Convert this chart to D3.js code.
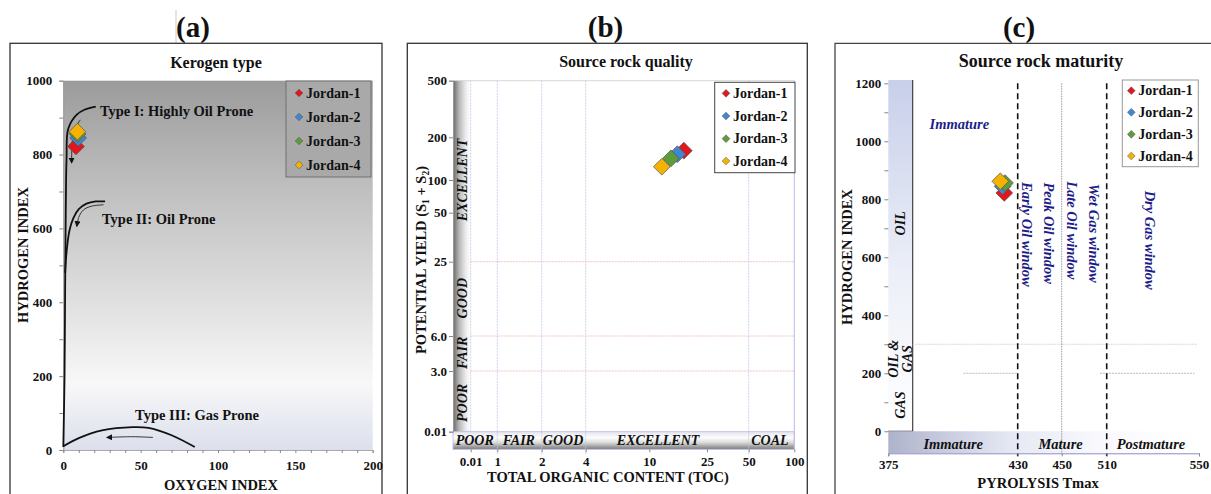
<!DOCTYPE html>
<html>
  <head>
    <meta charset="utf-8">
    <title>Kerogen type, source rock quality and maturity</title>
    <script src="https://d3js.org/d3.v7.min.js"></script>
    <style>
      body { margin: 0; background: #fff; }
      text { font-family: "Liberation Serif", "Times New Roman", serif; font-weight: bold; fill: #111; }
    </style>
  </head>
  <body>
    <svg id="chart" width="1211" height="494"></svg>
    <script>
      // wells and their colours
      let wells = ["Jordan-1", "Jordan-2", "Jordan-3", "Jordan-4"];
      let wellColors = ["#e3161b", "#3f87d2", "#5e9b3a", "#f6b200"];

      // (a) kerogen type: oxygen index vs hydrogen index
      let oxygenIndex = [8.2, 9.6, 9.3, 9.1];
      let hydrogenIndex = [822, 845, 856, 862];
      let oxygenTicks = [0, 50, 100, 150, 200];
      let kerogenHiTicks = [0, 200, 400, 600, 800, 1000];

      // kerogen evolution paths, [OI, HI]
      let typeI = [[0, 8], [0.8, 200], [1.2, 450], [1.6, 650], [2.1, 790], [3.2, 870], [8.7, 908], [14, 922], [21, 930]];
      let typeIArrow = [[11, 894], [7.5, 870], [5.8, 835], [5.4, 777]];
      let typeII = [[1.2, 480], [2.2, 540], [4, 595], [6.5, 628], [10, 652], [15, 667], [21, 673], [27, 673]];
      let typeIIArrow = [[26, 664], [18, 660], [13, 650], [10, 630], [8.7, 605]];
      let typeIII = [[0, 10], [10, 32], [25, 53], [45, 62], [55, 60], [70, 40], [85, 8]];
      let typeIIIArrow = [[58, 34], [45, 36], [28, 34]];
      let typeLabels = ["Type I: Highly Oil Prone", "Type II: Oil Prone", "Type III: Gas Prone"];
      let typeLabelAt = [[23.7, 905], [25, 611], [46.4, 81]];

      // (b) source rock quality: TOC vs potential yield (S1 + S2)
      let toc = [17.3, 15.6, 14.1, 12.2];
      let potentialYield = [161, 152, 142, 124];
      let tocTicks = [0.01, 1, 2, 4, 10, 25, 50, 100];
      let tocTickLabels = ["0.01", "1", "2", "4", "10", "25", "50", "100"];
      let yieldTicks = [0.01, 3, 6, 25, 50, 100, 200, 500];
      let yieldTickLabels = ["0.01", "3.0", "6.0", "25", "50", "100", "200", "500"];
      let tocClasses = ["POOR", "FAIR", "GOOD", "EXCELLENT", "COAL"];
      let tocClassLabelAt = [0.02, 1.4, 2.8, 11.5, 69];
      let tocClassLimits = [1, 2, 4, 50];
      let yieldClasses = ["POOR", "FAIR", "GOOD", "EXCELLENT"];
      let yieldClassLabelAt = [0.15, 4.3, 12.4, 100];
      let yieldClassLimits = [3, 6, 25];

      // (c) source rock maturity: Tmax vs hydrogen index
      let tmax = [424.3, 423.6, 424.6, 422.6];
      let tmaxTicks = [375, 430, 450, 510, 550];
      let maturityHiTicks = [0, 200, 400, 600, 800, 1000, 1200];
      let windowNames = ["Early Oil window", "Peak Oil window", "Late Oil window", "Wet Gas window", "Dry Gas window"];
      let windowLabelAt = [[434.4, 679], [444.4, 683], [463.3, 693], [493.1, 683], [528.8, 659]];
      let maturityClasses = ["Immature", "Mature", "Postmature"];
      let maturityClassLabelAt = [402.6, 449.5, 529.2];
      let hiClasses = [["OIL"], ["OIL &", "GAS"], ["GAS"]];
      let hiClassLabelAt = [717, 250, 90];

      let svg = d3.select("#chart");
      let defs = svg.append("defs");

      function gradient(id, x2, y2, stops) {
        let gr = defs.append("linearGradient").attr("id", id)
          .attr("x1", 0).attr("y1", 0).attr("x2", x2).attr("y2", y2);
        stops.forEach((s) => gr.append("stop").attr("offset", s[0]).attr("stop-color", s[1]));
      }
      gradient("gradA", 0, 1, [[0, "#9b9b9b"], [0.3, "#c0c0c0"], [0.6, "#e0e0e0"], [0.82, "#f8f8f9"], [1, "#dcdfec"]]);
      gradient("gradBLeft", 1, 0, [[0, "#666"], [0.35, "#b8b8b8"], [0.75, "#efefef"], [1, "#fff"]]);
      gradient("gradBBottom", 0, 1, [[0, "#e4e4ee"], [0.35, "#fdfdfd"], [0.6, "#dedede"], [1, "#7a7a7a"]]);
      gradient("gradCLeft", 0, 1, [[0, "#c8cfea"], [0.55, "#eceff8"], [1, "#fff"]]);
      gradient("gradCBottom", 1, 0, [[0, "#aeb3cc"], [0.4, "#e6e9f4"], [0.7, "#fafafe"], [1, "#fff"]]);

      defs.append("marker").attr("id", "arrow")
        .attr("viewBox", "0 0 10 10").attr("refX", 9).attr("refY", 5)
        .attr("markerUnits", "userSpaceOnUse").attr("markerWidth", 6).attr("markerHeight", 6)
        .attr("orient", "auto")
        .append("path").attr("d", "M0,0L10,5L0,10z").attr("fill", "#111");

      let bigDiamond = d3.symbol().type(d3.symbolSquare).size(140);
      let smallDiamond = d3.symbol().type(d3.symbolSquare).size(30);

      function drawWells(xs, ys, xScale, yScale) {
        svg.append("g").selectAll("path").data(wells).join("path")
          .attr("d", bigDiamond)
          .attr("transform", (d, i) => `translate(${xScale(xs[i])},${yScale(ys[i])}) rotate(45)`)
          .attr("fill", (d, i) => wellColors[i])
          .attr("stroke", "#555").attr("stroke-width", 0.7);
      }

      function drawLegend(x, y, w, h, rows, dx, fill, stroke) {
        let g = svg.append("g").attr("transform", `translate(${x},${y})`);
        g.append("rect").attr("width", w).attr("height", h)
          .attr("fill", fill).attr("stroke", stroke).attr("stroke-width", 1);
        wells.forEach((name, i) => {
          g.append("path").attr("d", smallDiamond)
            .attr("transform", `translate(${dx},${rows[i]}) rotate(45)`)
            .attr("fill", wellColors[i]).attr("stroke", "#555").attr("stroke-width", 0.5);
          g.append("text").attr("x", dx + 7).attr("y", rows[i]).attr("dy", "0.34em")
            .attr("font-size", 14).text(name);
        });
      }

      function styleAxis(g, domainColor) {
        g.attr("font-size", 13);
        g.select(".domain").attr("stroke", domainColor);
        g.selectAll(".tick line").attr("stroke", "#888");
      }

      function rotatedText(x, y, angle, size, txt, italic, color) {
        return svg.append("text")
          .attr("transform", `translate(${x},${y}) rotate(${angle})`)
          .attr("text-anchor", "middle").attr("dominant-baseline", "central")
          .attr("font-size", size)
          .attr("font-style", italic ? "italic" : null)
          .style("fill", color || "#111")
          .text(txt);
      }

      // panel frames and letters
      svg.append("line").attr("x1", 176).attr("x2", 176).attr("y1", 10).attr("y2", 43)
        .attr("stroke", "#bbb").attr("stroke-width", 0.8);
      svg.append("rect").attr("x", 10).attr("y", 43.3).attr("width", 372).attr("height", 470)
        .attr("fill", "none").attr("stroke", "#333").attr("stroke-width", 1.3);
      svg.append("rect").attr("x", 407.3).attr("y", 43.3).attr("width", 400).attr("height", 470)
        .attr("fill", "none").attr("stroke", "#333").attr("stroke-width", 1.3);
      svg.append("path").attr("d", "M835,510V43.3H1215")
        .attr("fill", "none").attr("stroke", "#444").attr("stroke-width", 1.3);

      [["(a)", 193], ["(b)", 605.5], ["(c)", 1019]].forEach((p) => {
        svg.append("text").attr("x", p[1]).attr("y", 37).attr("text-anchor", "middle")
          .attr("font-size", 29).text(p[0]);
      });

      // ================= (a) Kerogen type =================
      let xA = d3.scaleLinear().domain([0, 200]).range([63.3, 372.7]);
      let yA = d3.scaleLinear().domain([0, 1000]).range([450, 80.7]);

      svg.append("rect").attr("x", xA(0)).attr("y", yA(1000))
        .attr("width", xA(200) - xA(0)).attr("height", yA(0) - yA(1000))
        .attr("fill", "url(#gradA)");

      let gAy = svg.append("g").attr("transform", `translate(${xA(0)},0)`)
        .call(d3.axisLeft(yA).tickValues(d3.range(0, 1001, 100)).tickSize(4).tickPadding(7)
          .tickFormat((d) => (kerogenHiTicks.includes(d) ? d : "")));
      styleAxis(gAy, "#999");
      let gAx = svg.append("g").attr("transform", `translate(0,${yA(0)})`)
        .call(d3.axisBottom(xA).tickValues(d3.range(0, 201, 10)).tickSize(3).tickPadding(8)
          .tickFormat((d) => (oxygenTicks.includes(d) ? d : "")));
      styleAxis(gAx, "#aaa");

      let curve = d3.line().x((d) => xA(d[0])).y((d) => yA(d[1])).curve(d3.curveCatmullRom.alpha(0.5));
      [typeI, typeII, typeIII].forEach((path) => {
        svg.append("path").attr("d", curve(path)).attr("fill", "none")
          .attr("stroke", "#111").attr("stroke-width", 1.8);
      });
      [typeIArrow, typeIIArrow, typeIIIArrow].forEach((path) => {
        svg.append("path").attr("d", curve(path)).attr("fill", "none")
          .attr("stroke", "#222").attr("stroke-width", 0.9).attr("marker-end", "url(#arrow)");
      });
      typeLabels.forEach((t, i) => {
        svg.append("text").attr("x", xA(typeLabelAt[i][0])).attr("y", yA(typeLabelAt[i][1]))
          .attr("font-size", 14.5).text(t);
      });

      drawWells(oxygenIndex, hydrogenIndex, xA, yA);
      drawLegend(286, 81, 85, 96, [12, 36, 60, 84], 13, "#a9a9a9", "#707070");

      svg.append("text").attr("x", 216).attr("y", 68).attr("text-anchor", "middle")
        .attr("font-size", 16).text("Kerogen type");
      rotatedText(23, 255, -90, 14.5, "HYDROGEN INDEX");
      svg.append("text").attr("x", 221).attr("y", 490).attr("text-anchor", "middle")
        .attr("font-size", 14.5).text("OXYGEN INDEX");

      // ================= (b) Source rock quality =================
      let xB = d3.scaleLog().domain(tocTicks).range([470.7, 497.3, 541.7, 585.7, 649.3, 707, 748.7, 794.3]);
      let yB = d3.scaleLog().domain(yieldTicks).range([431.7, 371, 336, 261.7, 212.7, 180, 137.3, 80.7]);
      let bLeft = 453, bRight = xB(100), bTop = yB(500), bBottom = 449.3;

      // left (yield class) band and bottom (TOC class) band
      svg.append("rect").attr("x", bLeft).attr("y", bTop)
        .attr("width", xB(0.01) - bLeft).attr("height", yB(0.01) - bTop)
        .attr("fill", "url(#gradBLeft)");
      svg.append("rect").attr("x", bLeft).attr("y", yB(0.01))
        .attr("width", bRight - bLeft).attr("height", bBottom - yB(0.01))
        .attr("fill", "url(#gradBBottom)").attr("stroke", "#b9b9e0").attr("stroke-width", 0.8);

      // grid
      svg.append("g").selectAll("line").data(tocClassLimits.concat([0.01])).join("line")
        .attr("x1", (d) => xB(d)).attr("x2", (d) => xB(d))
        .attr("y1", bTop).attr("y2", (d) => (d === 0.01 ? yB(0.01) : bBottom + 5))
        .attr("stroke", "#c4c4e6").attr("stroke-width", 0.8).attr("stroke-dasharray", "2,1");
      svg.append("g").selectAll("line").data(yieldClassLimits).join("line")
        .attr("x1", xB(0.01)).attr("x2", bRight)
        .attr("y1", (d) => yB(d)).attr("y2", (d) => yB(d))
        .attr("stroke", "#f1b4b4").attr("stroke-width", 0.8).attr("stroke-dasharray", "2,1");
      svg.append("line").attr("x1", bRight).attr("x2", bRight).attr("y1", bTop).attr("y2", bBottom)
        .attr("stroke", "#b9b9e0");
      svg.append("line").attr("x1", bLeft).attr("x2", bRight).attr("y1", bTop).attr("y2", bTop)
        .attr("stroke", "#ccc").attr("stroke-width", 0.8);

      let gBy = svg.append("g").attr("transform", `translate(${bLeft},0)`)
        .call(d3.axisLeft(yB).tickValues(yieldTicks).tickSize(4).tickPadding(2)
          .tickFormat((d, i) => yieldTickLabels[i]));
      styleAxis(gBy, "#999");
      let gBx = svg.append("g").attr("transform", `translate(0,${bBottom})`)
        .call(d3.axisBottom(xB).tickValues(tocTicks).tickSize(3).tickPadding(4)
          .tickFormat((d, i) => tocTickLabels[i]));
      styleAxis(gBx, "none");

      tocClasses.forEach((c, i) => {
        svg.append("text").attr("x", xB(tocClassLabelAt[i])).attr("y", (yB(0.01) + bBottom) / 2)
          .attr("dy", "0.35em").attr("text-anchor", "middle")
          .attr("font-size", 14).attr("font-style", "italic").text(c);
      });
      yieldClasses.forEach((c, i) => {
        rotatedText((bLeft + xB(0.01)) / 2 + 1, yB(yieldClassLabelAt[i]), -90, 14, c, true);
      });

      drawWells(toc, potentialYield, xB, yB);
      drawLegend(714.7, 82.3, 80.3, 90.4, [11, 33.7, 56.4, 78.7], 11.3, "#fff", "#444");

      svg.append("text").attr("x", 626).attr("y", 67).attr("text-anchor", "middle")
        .attr("font-size", 16).text("Source rock quality");
      let yTitle = svg.append("text")
        .attr("transform", "translate(420.7,260) rotate(-90)")
        .attr("text-anchor", "middle").attr("dominant-baseline", "central").attr("font-size", 14.5);
      yTitle.append("tspan").text("POTENTIAL YIELD (S");
      yTitle.append("tspan").attr("font-size", 9.5).attr("baseline-shift", "sub").text("1");
      yTitle.append("tspan").text(" + S");
      yTitle.append("tspan").attr("font-size", 9.5).attr("baseline-shift", "sub").text("2");
      yTitle.append("tspan").text(")");
      svg.append("text").attr("x", 608).attr("y", 482).attr("text-anchor", "middle")
        .attr("font-size", 14.5).text("TOTAL ORGANIC CONTENT (TOC)");

      // ================= (c) Source rock maturity =================
      let xC = d3.scaleLinear().domain(tmaxTicks).range([888.3, 1017.7, 1061.7, 1106.7, 1199]);
      let yC = d3.scaleLinear().domain([-76, 1200]).range([453.3, 83.3]);
      let bandRight = 912.7;

      svg.append("rect").attr("x", xC(375)).attr("y", 80)
        .attr("width", bandRight - xC(375)).attr("height", yC(0) - 80)
        .attr("fill", "url(#gradCLeft)");
      svg.append("path").attr("d", `M${bandRight},80V${yC(0)}H${xC(375)}`)
        .attr("fill", "none").attr("stroke", "#333").attr("stroke-width", 1.1);
      svg.append("rect").attr("x", xC(375)).attr("y", yC(0))
        .attr("width", xC(550) - xC(375)).attr("height", yC(-76) - yC(0))
        .attr("fill", "url(#gradCBottom)");

      // HI class limits
      svg.append("line").attr("x1", bandRight).attr("x2", xC(549))
        .attr("y1", yC(300)).attr("y2", yC(300))
        .attr("stroke", "#ccc").attr("stroke-width", 0.8).attr("stroke-dasharray", "2,1");
      [[407, 430], [501, 548]].forEach((s) => {
        svg.append("line").attr("x1", xC(s[0])).attr("x2", xC(s[1]))
          .attr("y1", yC(200)).attr("y2", yC(200))
          .attr("stroke", "#aaa").attr("stroke-width", 0.8).attr("stroke-dasharray", "2,1");
      });

      // maturity limits
      [430, 510].forEach((t) => {
        svg.append("line").attr("x1", xC(t)).attr("x2", xC(t)).attr("y1", yC(1200)).attr("y2", yC(-76) + 3)
          .attr("stroke", "#111").attr("stroke-width", 1.6).attr("stroke-dasharray", "6,4");
      });
      svg.append("line").attr("x1", xC(450)).attr("x2", xC(450)).attr("y1", yC(1200)).attr("y2", yC(-76))
        .attr("stroke", "#999").attr("stroke-width", 1).attr("stroke-dasharray", "1.5,1");

      let gCy = svg.append("g").attr("transform", `translate(${xC(375)},0)`)
        .call(d3.axisLeft(yC).tickValues(d3.range(0, 1201, 100)).tickSize(4).tickPadding(3)
          .tickFormat((d) => (maturityHiTicks.includes(d) ? d : "")));
      styleAxis(gCy, "none");
      let gCx = svg.append("g").attr("transform", `translate(0,${yC(-76)})`)
        .call(d3.axisBottom(xC).tickValues(tmaxTicks).tickSize(3).tickPadding(3));
      styleAxis(gCx, "#8c8cc4");

      svg.append("text").attr("x", xC(405.2)).attr("y", yC(1061)).attr("dy", "0.35em")
        .attr("text-anchor", "middle").attr("font-size", 14.5).attr("font-style", "italic")
        .style("fill", "#1d1d8a").text("Immature");
      windowNames.forEach((w, i) => {
        rotatedText(xC(windowLabelAt[i][0]), yC(windowLabelAt[i][1]), 90, 14.5, w, true, "#1d1d8a");
      });
      maturityClasses.forEach((m, i) => {
        svg.append("text").attr("x", xC(maturityClassLabelAt[i])).attr("y", yC(-42)).attr("dy", "0.35em")
          .attr("text-anchor", "middle").attr("font-size", 14.5).attr("font-style", "italic").text(m);
      });
      hiClasses.forEach((lines, i) => {
        lines.forEach((ln, j) => {
          let off = (j - (lines.length - 1) / 2) * 14;
          rotatedText((xC(375) + bandRight) / 2 + off, yC(hiClassLabelAt[i]), -90, 14, ln, true);
        });
      });

      drawWells(tmax, hydrogenIndex, xC, yC);
      drawLegend(1122.3, 80, 76, 86.7, [10.7, 32.3, 54.3, 76], 9, "#fff", "#999");

      svg.append("text").attr("x", 1041).attr("y", 67).attr("text-anchor", "middle")
        .attr("font-size", 18).text("Source rock maturity");
      rotatedText(847, 257, -90, 14.5, "HYDROGEN INDEX");
      svg.append("text").attr("x", 1038).attr("y", 488).attr("text-anchor", "middle")
        .attr("font-size", 14.5).text("PYROLYSIS Tmax");
    </script>
  </body>
</html>
